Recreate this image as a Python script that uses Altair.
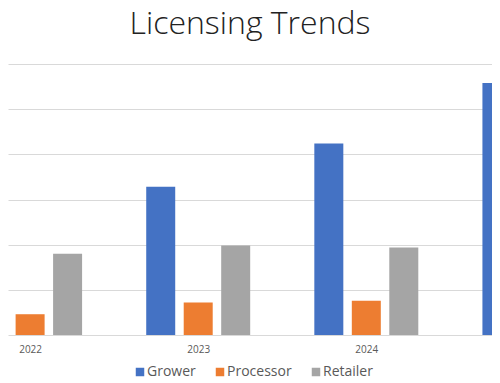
import altair as alt
import pandas as pd

years = [2022, 2023, 2024, 2025]
series = ["Grower", "Processor", "Retailer"]
grower = [124, 164, 212, 279]
processor = [23, 36, 38, None]
retailer = [90, 99, 97, None]
colors = ["#4472C4", "#ED7D31", "#A5A5A5"]
grid_values = [0, 50, 100, 150, 200, 250, 300]

rows = []
for s, vals in zip(series, [grower, processor, retailer]):
    for y, v in zip(years, vals):
        if v is not None:
            rows.append({"Year": y, "Series": s, "Licenses": v})
df = pd.DataFrame(rows)

chart = (
    alt.Chart(df)
    .transform_calculate(
        pos="datum.Year + (datum.Series === 'Grower' ? -0.223 : (datum.Series === 'Retailer' ? 0.223 : 0))"
    )
    .mark_bar(size=29, clip=True)
    .encode(
        x=alt.X(
            "pos:Q",
            scale=alt.Scale(domain=[2021.8685, 2024.7477], nice=False, zero=False, padding=0),
            axis=alt.Axis(
                values=years, format="d", title=None, grid=False, domain=False,
                ticks=False, tickSize=0, labelPadding=9, labelFontSize=10,
                labelColor="#595959", labelFont="Open Sans",
            ),
        ),
        y=alt.Y(
            "Licenses:Q",
            scale=alt.Scale(domain=[0, 300], nice=False),
            axis=alt.Axis(
                values=grid_values, labels=False, ticks=False, domain=False,
                title=None, gridColor="#D9D9D9", gridWidth=1,
            ),
        ),
        color=alt.Color(
            "Series:N",
            scale=alt.Scale(domain=series, range=colors),
            legend=alt.Legend(
                title=None, orient="none", legendX=125, legendY=301,
                direction="horizontal", symbolType="square", symbolSize=72,
                symbolStrokeWidth=0, labelFontSize=14, labelColor="#595959",
                labelFont="Open Sans", labelOffset=0, columnPadding=17, padding=0,
            ),
        ),
    )
    .properties(
        width=484,
        height=271,
        title=alt.TitleParams(
            "Licensing Trends", font="Open Sans", fontSize=32, fontWeight=300,
            color="#222222", anchor="middle", baseline="alphabetic", offset=0, dy=2,
        ),
        autosize=alt.AutoSizeParams(type="none"),
        padding={"top": 56, "left": 0, "right": 0, "bottom": 47},
    )
    .configure_view(stroke=None)
)

chart.save("out.html", embed_options={"renderer": "svg", "actions": False})
